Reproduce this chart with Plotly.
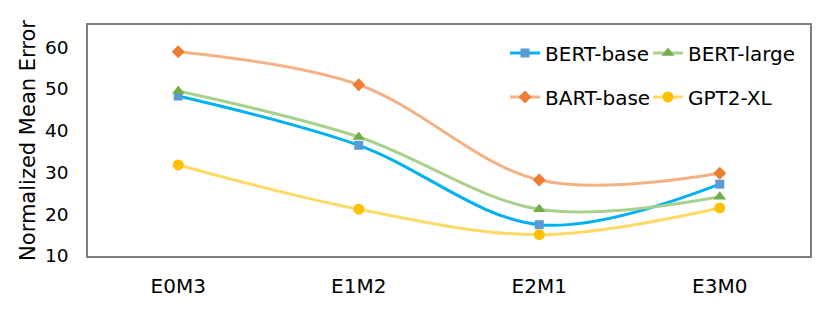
import plotly.graph_objects as go

categories = ["E0M3", "E1M2", "E2M1", "E3M0"]
bert_base = [48.3, 36.5, 17.5, 27.2]
bert_large = [49.5, 38.5, 21.2, 24.2]
bart_base = [58.9, 51.0, 28.2, 29.8]
gpt2_xl = [31.8, 21.2, 15.1, 21.5]
y_ticks = [10, 20, 30, 40, 50, 60]

FONT = "DejaVu Sans"

# (name, values, line colour, marker colour, symbol, size, legend id, legend x, legend y)
series = [
    ("BERT-base", bert_base, "#00B0F0", "#5B9BD5", "square", 9, "legend", 0.5776, 203 / 231),
    ("BERT-large", bert_large, "#A9D18E", "#70AD47", "triangle-up", 11, "legend2", 0.7756, 203 / 231),
    ("BART-base", bart_base, "#F4B183", "#ED7D31", "diamond", 10, "legend3", 0.5776, 159 / 231),
    ("GPT2-XL", gpt2_xl, "#FFD966", "#FFC000", "circle", 11, "legend4", 0.7756, 159 / 231),
]

fig = go.Figure()
legends = {}
for name, vals, lc, mc, sym, ms, lg, lx, ly in series:
    fig.add_trace(go.Scatter(
        x=categories, y=vals, name=name, mode="lines+markers",
        line=dict(color=lc, width=3, shape="spline", smoothing=1.0),
        marker=dict(color=mc, symbol=sym, size=ms),
        legend=lg,
    ))
    legends[lg] = dict(
        x=lx, y=ly, orientation="h", xanchor="left", yanchor="middle",
        xref="paper", yref="paper",
        font=dict(size=20, family=FONT, color="#000000"),
        bgcolor="rgba(0,0,0,0)", itemwidth=30,
    )

# page body has an 8px margin, so the figure is drawn 8px in from the window edge
fig.update_layout(
    template="none",
    width=822, height=306,
    margin=dict(l=80, r=20, t=17, b=58, autoexpand=False),
    paper_bgcolor="white", plot_bgcolor="white",
    font=dict(family=FONT, size=20, color="#000000"),
    showlegend=True,
    **legends,
)
fig.update_xaxes(
    type="category", range=[-0.5, 3.5], showgrid=False, automargin=False,
    showline=True, linecolor="#7F7F7F", linewidth=1.5, mirror=True,
    ticks="", tickfont=dict(size=20), ticklabelstandoff=11,
)
fig.update_yaxes(
    range=[10, 65.3], tickvals=y_ticks, showgrid=False, zeroline=False, automargin=False,
    showline=True, linecolor="#7F7F7F", linewidth=1.5, mirror=True,
    ticks="", tickfont=dict(size=18.5), ticklabelstandoff=14,
    title=dict(text="Normalized Mean Error", font=dict(size=21), standoff=4),
)

fig.write_html("out.html")
